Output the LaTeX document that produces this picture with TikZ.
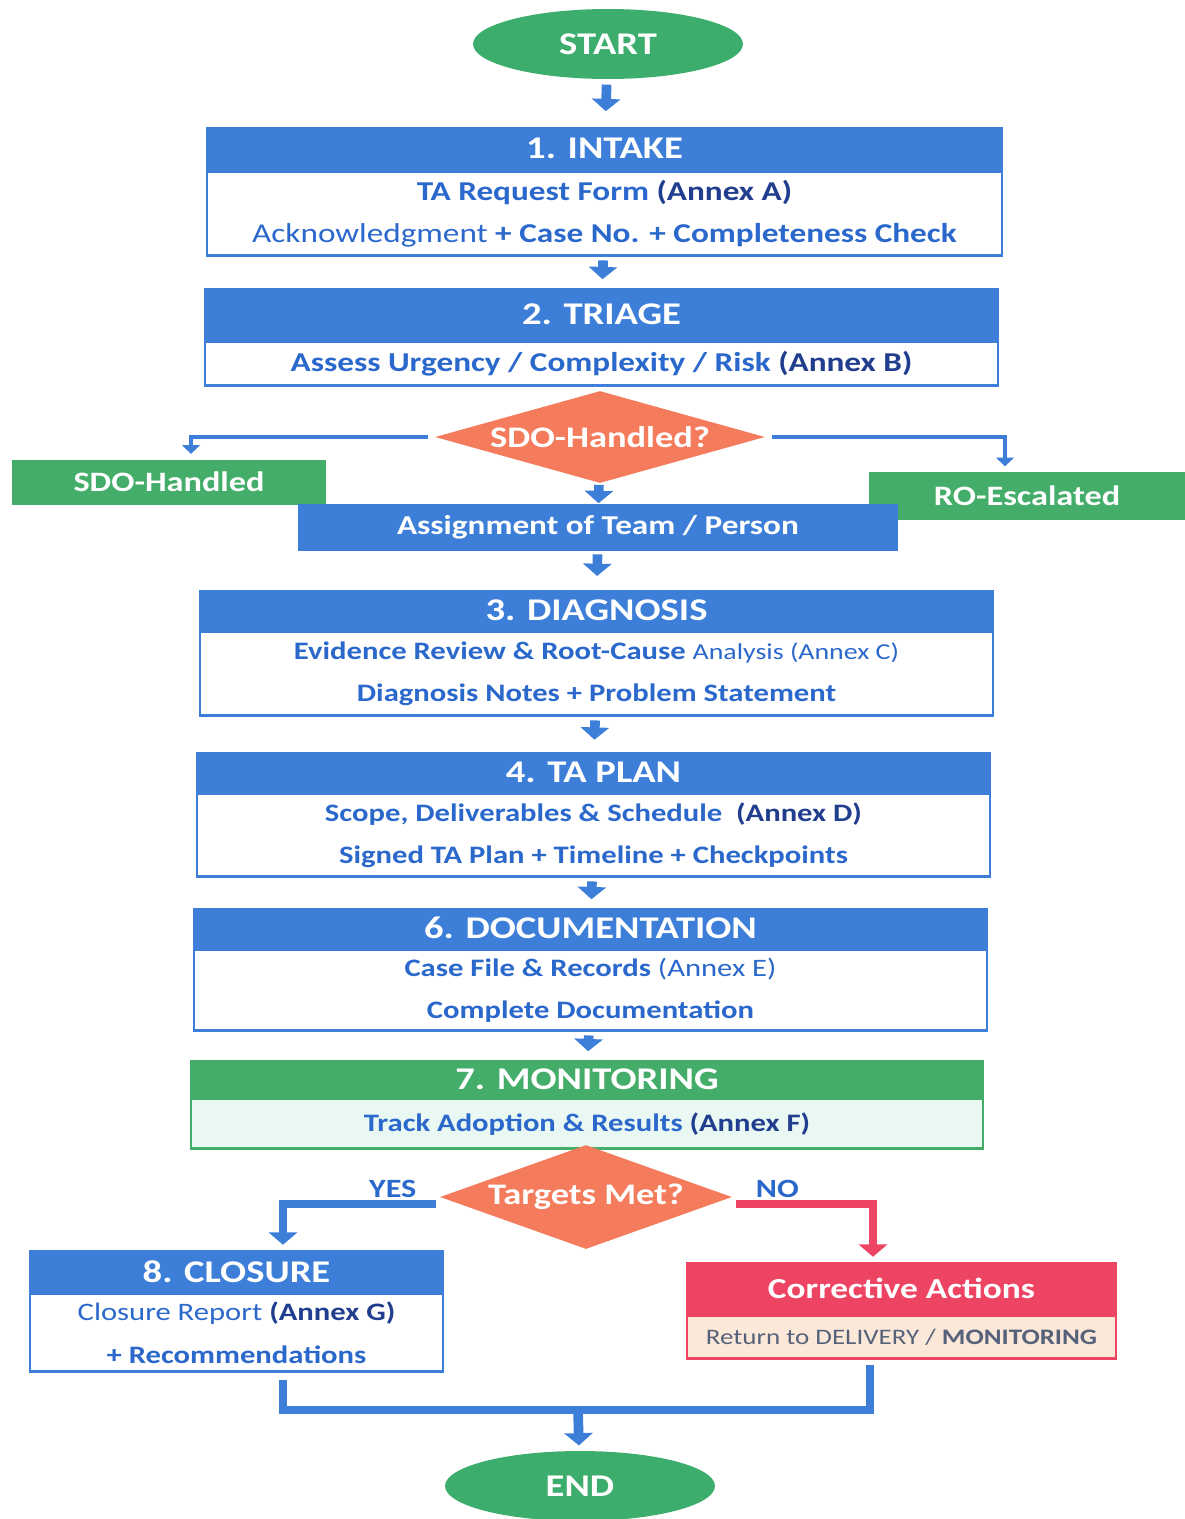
\documentclass[tikz,border=0pt]{standalone}
\usepackage{fontspec}
\setmainfont{Carlito}[FakeStretch=1.22]
\usetikzlibrary{arrows.meta,shapes.geometric,positioning}
\definecolor{hdrblue}{HTML}{3D7FD8}
\definecolor{txtblue}{HTML}{2B68CC}
\definecolor{annexblue}{HTML}{213E8E}
\definecolor{startgreen}{HTML}{3DAD6E}
\definecolor{boxgreen}{HTML}{43AD69}
\definecolor{paleteal}{HTML}{EAF8F3}
\definecolor{diaorange}{HTML}{F47B5C}
\definecolor{alertred}{HTML}{EE4463}
\definecolor{paleorange}{HTML}{FCE8D8}
\definecolor{slate}{HTML}{56627A}
\newcommand{\annex}[1]{\textcolor{annexblue}{(Annex #1)}}

\begin{document}
\begin{tikzpicture}[x=0.02cm,y=-0.02cm,
  hdr/.style={draw=#1, fill=#1, line width=1.4pt, text=white, anchor=north, inner sep=0pt,
    font=\fontsize{18}{20}\selectfont\bfseries},
  hdr/.default=hdrblue,
  bodybox/.style={draw=#1, fill=white, line width=1.4pt, text=txtblue, anchor=north, inner sep=0pt,
    align=center, font=\fontsize{14.3}{24}\selectfont\bfseries},
  bodybox/.default=hdrblue,
  term/.style={ellipse, fill=startgreen, text=white, minimum width=5.4cm, minimum height=1.4cm,
    font=\fontsize{18}{20}\selectfont\bfseries},
  decide/.style={diamond, fill=diaorange, text=white, inner sep=0pt,
    font=\fontsize{17}{20}\selectfont\bfseries},
  tagbox/.style={fill=#1, text=white, inner sep=0pt, font=\fontsize{16}{20}\selectfont\bfseries},
  flowarrow/.style={draw=hdrblue, line width=5.5pt, -{Triangle[width=16pt,length=7pt]},
    shorten <=2pt, shorten >=5pt},
  branch/.style={draw=hdrblue, line width=2.6pt, -{Triangle[width=10pt,length=5pt]},
    shorten <=4pt, shorten >=3pt},
  lbl/.style={text=txtblue, inner sep=1.5pt, font=\fontsize{15}{18}\selectfont\bfseries}]
\useasboundingbox (0,0) rectangle (1185,1519);
\fill[white] (0,0) rectangle (1185,1519);

\node[term] (start) at (608,44) {START};

\node[hdr, minimum width=15.9cm, minimum height=0.82cm] (intakeh) at (604.5,127) {1. INTAKE};
\node[bodybox, minimum width=15.9cm, minimum height=1.68cm, font=\fontsize{15.5}{24}\selectfont\bfseries]
  (intakeb) at (intakeh.south)
  {TA Request Form \annex{A}\\ {\mdseries Acknowledgment} + Case No. + Completeness Check};

\node[hdr, minimum width=15.86cm, minimum height=1.0cm] (triageh) at (601.5,288) {2. TRIAGE};
\node[bodybox, minimum width=15.86cm, minimum height=0.88cm, font=\fontsize{15.5}{24}\selectfont\bfseries]
  (triageb) at (triageh.south) {Assess Urgency / Complexity / Risk \annex{B}};

\node[decide, minimum width=6.6cm, minimum height=1.84cm, aspect=3.6] (sdoq) at (600,437) {SDO-Handled?};
\node[tagbox=boxgreen, minimum width=6.28cm, minimum height=0.9cm] (sdoh) at (169,482) {SDO-Handled};
\node[tagbox=boxgreen, minimum width=6.32cm, minimum height=0.96cm] (roesc) at (1027,496) {RO-Escalated};
\node[tagbox=hdrblue, minimum width=12cm, minimum height=0.94cm, font=\fontsize{15.5}{20}\selectfont\bfseries]
  (assign) at (598,527) {Assignment of Team / Person};

\node[hdr, minimum width=15.86cm, minimum height=0.76cm] (diagh) at (596.5,590) {3. DIAGNOSIS};
\node[bodybox, minimum width=15.86cm, minimum height=1.68cm] (diagb) at (diagh.south)
  {Evidence Review \& Root-Cause {\mdseries\fontsize{13}{24}\selectfont Analysis (Annex C)}\\
   Diagnosis Notes + Problem Statement};

\node[hdr, minimum width=15.86cm, minimum height=0.76cm] (planh) at (593.5,752) {4. TA PLAN};
\node[bodybox, minimum width=15.86cm, minimum height=1.66cm] (planb) at (planh.south)
  {Scope, Deliverables \& Schedule\ \ \annex{D}\\ Signed TA Plan + Timeline + Checkpoints};

\node[hdr, minimum width=15.86cm, minimum height=0.76cm] (doch) at (590.5,908) {6. DOCUMENTATION};
\node[bodybox, minimum width=15.86cm, minimum height=1.62cm] (docb) at (doch.south)
  {Case File \& Records {\mdseries(Annex E)}\\ Complete Documentation};

\node[hdr=boxgreen, minimum width=15.84cm, minimum height=0.7cm] (monh) at (587,1060) {7. MONITORING};
\node[bodybox=boxgreen, fill=paleteal, minimum width=15.84cm, minimum height=1.0cm] (monb) at (monh.south)
  {Track Adoption \& Results \annex{F}};

\node[decide, minimum width=5.84cm, minimum height=2.08cm, aspect=2.8] (tmet) at (586,1197) {Targets Met?};

\node[hdr, minimum width=8.26cm, minimum height=0.8cm] (closh) at (236.5,1250) {8. CLOSURE};
\node[bodybox, minimum width=8.26cm, minimum height=1.56cm] (closb) at (closh.south)
  {{\mdseries Closure Report} \annex{G}\\ + Recommendations};

\node[hdr=alertred, minimum width=8.58cm, minimum height=1.0cm, font=\fontsize{16.5}{20}\selectfont\bfseries]
  (corrh) at (901.5,1262) {Corrective Actions};
\node[bodybox=alertred, fill=paleorange, minimum width=8.58cm, minimum height=0.86cm, text=slate,
  font=\fontsize{12.6}{20}\selectfont\bfseries] (corrb) at (corrh.south)
  {{\mdseries Return to DELIVERY /} MONITORING};

\node[term] (end) at (580,1486) {END};
\coordinate (join) at (578,1410);

\draw[flowarrow, shorten <=3pt, shorten >=9pt] (start) -- (intakeh);
\draw[flowarrow] (intakeb) -- (triageh);
\draw[branch] (sdoq.west) -| ([xshift=0.44cm]sdoh.north);
\draw[branch] (sdoq.east) -| ([xshift=-0.44cm]roesc.north);
\draw[flowarrow, shorten <=1pt, shorten >=0pt] (sdoq) -- (assign);
\draw[flowarrow, shorten >=8pt] (assign) -- (diagh);
\draw[flowarrow, shorten >=7pt] (diagb) -- (planh);
\draw[flowarrow] (planb) -- (doch);
\draw[flowarrow] (docb) -- (monh);
\draw[flowarrow, line width=4.5pt, shorten >=3pt] ([yshift=-4pt]tmet.west) -|
  node[lbl, above, pos=0.15] {YES} ([xshift=0.93cm]closh.north);
\draw[flowarrow, line width=4.5pt, draw=alertred, shorten >=3pt] ([yshift=-4pt]tmet.east) -|
  node[lbl, above, pos=0.16] {NO} ([xshift=-0.57cm]corrh.north);
\draw[draw=hdrblue, line width=4.5pt, shorten <=4pt, shorten >=3pt]
  ([xshift=0.93cm]closb.south) |- (join) -| ([xshift=-0.63cm]corrb.south);
\draw[flowarrow, shorten <=-2pt, shorten >=3pt] (join) -- (end);
\end{tikzpicture}
\end{document}
